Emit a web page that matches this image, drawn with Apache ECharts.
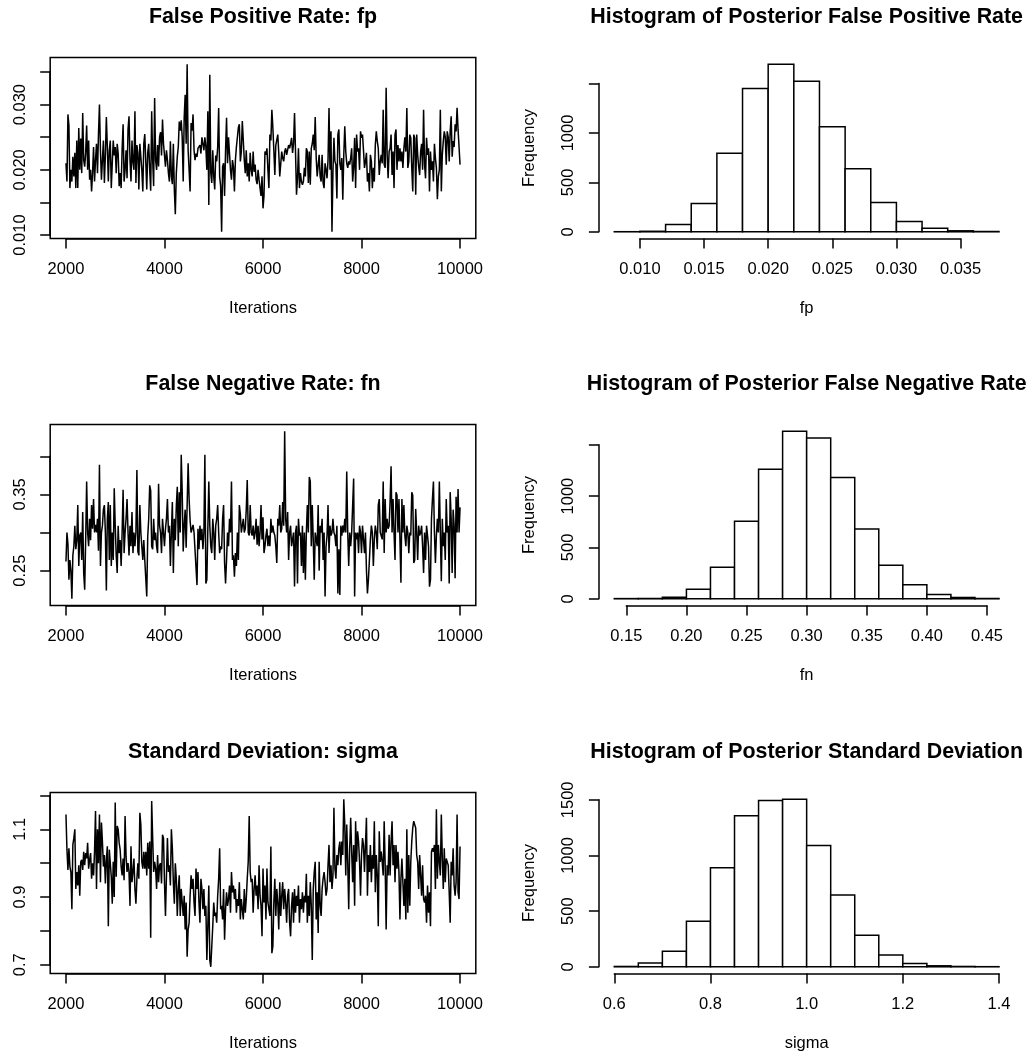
<!DOCTYPE html>
<html><head><meta charset="utf-8">
<script src="https://cdn.jsdelivr.net/npm/echarts@6/dist/echarts.min.js"></script>
<style>html,body{margin:0;padding:0;background:#fff}#c{width:1035px;height:1056px}</style>
</head><body><div id="c"></div>
<script>
// ---------------- DATA ----------------
const ITER_START = 2000, ITER_STEP = 20;

const fpTrace = [
0.0210,0.0182,0.0285,0.0268,0.0172,0.0200,0.0182,0.0220,0.0190,0.0226,0.0172,0.0245,0.0172,0.0264,0.0200,0.0248,0.0195,0.0287,0.0215,0.0205,
0.0226,0.0268,0.0200,0.0245,0.0185,0.0200,0.0167,0.0195,0.0235,0.0182,0.0215,0.0240,0.0195,0.0255,0.0300,0.0230,0.0185,0.0215,0.0245,0.0180,
0.0222,0.0281,0.0235,0.0182,0.0230,0.0245,0.0172,0.0210,0.0245,0.0222,0.0235,0.0195,0.0240,0.0225,0.0175,0.0195,0.0172,0.0232,0.0270,0.0182,
0.0200,0.0230,0.0187,0.0262,0.0282,0.0215,0.0182,0.0245,0.0212,0.0200,0.0290,0.0180,0.0238,0.0226,0.0170,0.0240,0.0238,0.0200,0.0167,0.0240,
0.0255,0.0213,0.0170,0.0226,0.0240,0.0200,0.0168,0.0290,0.0215,0.0175,0.0310,0.0215,0.0200,0.0238,0.0205,0.0250,0.0258,0.0222,0.0277,0.0240,
0.0238,0.0205,0.0230,0.0215,0.0195,0.0182,0.0244,0.0190,0.0178,0.0240,0.0170,0.0132,0.0195,0.0220,0.0235,0.0274,0.0260,0.0276,0.0250,0.0182,
0.0280,0.0315,0.0240,0.0362,0.0230,0.0200,0.0167,0.0272,0.0260,0.0285,0.0230,0.0215,0.0225,0.0220,0.0233,0.0235,0.0238,0.0225,0.0250,0.0240,
0.0230,0.0250,0.0235,0.0200,0.0290,0.0146,0.0346,0.0195,0.0180,0.0230,0.0190,0.0170,0.0222,0.0213,0.0235,0.0295,0.0190,0.0175,0.0105,0.0205,
0.0210,0.0160,0.0230,0.0280,0.0210,0.0250,0.0225,0.0200,0.0185,0.0215,0.0205,0.0167,0.0215,0.0235,0.0250,0.0265,0.0270,0.0213,0.0228,0.0275,
0.0275,0.0215,0.0195,0.0230,0.0190,0.0210,0.0182,0.0226,0.0200,0.0190,0.0228,0.0197,0.0208,0.0185,0.0178,0.0200,0.0185,0.0172,0.0160,0.0190,
0.0141,0.0160,0.0228,0.0223,0.0233,0.0200,0.0172,0.0254,0.0245,0.0292,0.0265,0.0230,0.0192,0.0238,0.0240,0.0254,0.0226,0.0190,0.0187,0.0228,
0.0218,0.0213,0.0228,0.0233,0.0223,0.0226,0.0238,0.0233,0.0240,0.0249,0.0226,0.0240,0.0287,0.0228,0.0162,0.0187,0.0233,0.0172,0.0195,0.0182,
0.0177,0.0182,0.0203,0.0190,0.0233,0.0228,0.0180,0.0228,0.0177,0.0233,0.0240,0.0254,0.0230,0.0281,0.0218,0.0190,0.0187,0.0223,0.0190,0.0182,
0.0223,0.0180,0.0172,0.0210,0.0200,0.0187,0.0215,0.0295,0.0200,0.0259,0.0105,0.0197,0.0249,0.0213,0.0208,0.0156,0.0254,0.0262,0.0210,0.0200,
0.0218,0.0154,0.0223,0.0267,0.0228,0.0210,0.0203,0.0213,0.0208,0.0218,0.0233,0.0182,0.0203,0.0249,0.0172,0.0254,0.0228,0.0233,0.0200,0.0259,
0.0249,0.0254,0.0230,0.0203,0.0213,0.0226,0.0182,0.0195,0.0167,0.0223,0.0213,0.0172,0.0203,0.0182,0.0238,0.0259,0.0244,0.0233,0.0192,0.0213,
0.0223,0.0210,0.0292,0.0208,0.0203,0.0326,0.0223,0.0187,0.0228,0.0233,0.0254,0.0192,0.0228,0.0172,0.0254,0.0262,0.0200,0.0238,0.0213,0.0233,
0.0213,0.0228,0.0203,0.0233,0.0250,0.0228,0.0295,0.0203,0.0213,0.0254,0.0249,0.0203,0.0167,0.0254,0.0249,0.0162,0.0254,0.0223,0.0205,0.0192,
0.0228,0.0240,0.0200,0.0292,0.0208,0.0187,0.0249,0.0223,0.0233,0.0167,0.0228,0.0200,0.0213,0.0182,0.0240,0.0218,0.0203,0.0155,0.0190,0.0200,
0.0292,0.0167,0.0223,0.0244,0.0259,0.0250,0.0208,0.0259,0.0250,0.0213,0.0259,0.0282,0.0220,0.0244,0.0235,0.0270,0.0259,0.0295,0.0262,0.0235,0.0208
];

const fnTrace = [
0.262,0.300,0.285,0.238,0.264,0.250,0.213,0.270,0.282,0.309,0.278,0.290,0.336,0.256,0.296,0.300,0.264,0.327,0.247,0.225,
0.290,0.367,0.300,0.282,0.318,0.290,0.336,0.305,0.344,0.300,0.310,0.300,0.318,0.276,0.389,0.256,0.300,0.309,0.330,0.336,
0.300,0.224,0.318,0.340,0.264,0.336,0.256,0.300,0.264,0.358,0.309,0.270,0.247,0.309,0.273,0.290,0.256,0.300,0.356,0.273,
0.300,0.318,0.344,0.300,0.270,0.309,0.282,0.327,0.273,0.300,0.282,0.300,0.382,0.275,0.270,0.336,0.300,0.282,0.264,0.290,
0.264,0.240,0.216,0.295,0.318,0.362,0.355,0.282,0.278,0.318,0.290,0.300,0.282,0.273,0.364,0.309,0.300,0.273,0.318,0.300,
0.282,0.305,0.318,0.344,0.300,0.309,0.256,0.300,0.340,0.247,0.318,0.290,0.334,0.360,0.282,0.353,0.300,0.402,0.353,0.275,
0.309,0.330,0.280,0.336,0.391,0.344,0.316,0.300,0.305,0.310,0.300,0.300,0.300,0.231,0.305,0.278,0.309,0.290,0.305,0.278,
0.300,0.402,0.233,0.238,0.305,0.367,0.309,0.282,0.273,0.318,0.300,0.264,0.309,0.318,0.336,0.300,0.273,0.282,0.278,0.318,
0.336,0.260,0.233,0.264,0.300,0.282,0.318,0.300,0.367,0.264,0.270,0.242,0.273,0.256,0.300,0.264,0.336,0.324,0.300,0.309,
0.318,0.300,0.305,0.330,0.369,0.300,0.296,0.336,0.300,0.296,0.309,0.291,0.300,0.318,0.284,0.309,0.282,0.300,0.336,0.291,
0.320,0.273,0.282,0.296,0.305,0.282,0.296,0.282,0.318,0.300,0.309,0.300,0.296,0.282,0.260,0.318,0.309,0.336,0.300,0.305,
0.340,0.309,0.433,0.318,0.300,0.327,0.264,0.300,0.309,0.282,0.291,0.300,0.229,0.300,0.309,0.233,0.318,0.296,0.300,0.256,
0.309,0.247,0.300,0.238,0.300,0.336,0.300,0.373,0.367,0.282,0.336,0.290,0.238,0.300,0.291,0.282,0.336,0.250,0.309,0.300,
0.318,0.264,0.300,0.216,0.282,0.296,0.336,0.273,0.309,0.296,0.300,0.318,0.300,0.296,0.282,0.309,0.220,0.278,0.218,0.309,
0.296,0.309,0.300,0.318,0.300,0.380,0.300,0.256,0.300,0.282,0.300,0.300,0.371,0.216,0.300,0.291,0.300,0.273,0.309,0.300,
0.273,0.309,0.309,0.273,0.300,0.251,0.220,0.238,0.264,0.291,0.309,0.300,0.256,0.291,0.309,0.300,0.278,0.336,0.344,0.300,
0.300,0.291,0.367,0.273,0.344,0.300,0.318,0.305,0.309,0.340,0.387,0.300,0.344,0.300,0.264,0.353,0.349,0.300,0.344,0.291,
0.234,0.344,0.300,0.336,0.296,0.282,0.309,0.300,0.273,0.300,0.296,0.353,0.349,0.260,0.264,0.331,0.300,0.264,0.309,0.296,
0.300,0.309,0.282,0.247,0.300,0.264,0.309,0.296,0.282,0.229,0.238,0.318,0.344,0.367,0.300,0.260,0.296,0.318,0.300,0.367,
0.300,0.236,0.318,0.282,0.300,0.264,0.344,0.300,0.309,0.233,0.353,0.318,0.247,0.330,0.309,0.240,0.347,0.300,0.357,0.300,0.333
];

const sigmaTrace = [
1.144,1.040,0.980,1.044,0.990,0.974,0.864,1.054,1.074,1.100,0.924,0.974,0.934,0.994,0.904,1.004,1.010,0.980,1.034,0.994,
1.030,1.014,1.060,0.984,1.010,1.030,0.954,1.000,0.964,1.034,1.154,0.924,1.100,1.000,1.144,0.944,1.120,1.064,0.990,1.024,
0.940,1.010,1.050,0.814,1.040,1.000,0.960,0.880,1.004,0.900,1.179,0.960,1.110,1.100,1.060,1.040,0.990,0.964,1.014,0.950,
1.139,1.020,0.974,1.000,0.974,0.874,1.050,0.944,0.974,1.014,0.924,0.880,0.954,1.000,0.954,1.149,1.114,1.004,0.984,1.034,
0.984,1.034,0.964,1.060,0.984,1.064,0.780,1.184,1.074,0.974,1.004,0.984,0.924,1.024,0.944,0.994,1.000,0.940,1.084,1.074,
0.944,0.844,0.964,1.074,0.974,0.994,0.934,1.100,1.044,0.944,0.880,1.000,0.954,0.844,0.924,0.964,0.844,0.924,0.884,0.844,
0.904,0.804,0.884,0.724,0.804,0.824,0.904,0.964,0.924,0.954,0.884,0.844,0.984,0.924,0.974,0.884,0.824,0.954,0.924,0.864,
0.924,0.844,0.874,0.714,0.814,0.934,0.714,0.694,0.754,0.814,0.884,0.844,0.854,0.824,0.904,0.954,1.044,0.864,0.874,0.834,
0.924,0.774,0.864,0.914,0.874,0.894,0.934,0.854,0.974,0.914,0.934,0.894,0.924,0.854,0.894,0.874,0.944,0.834,0.894,0.864,
0.834,0.924,0.854,0.894,0.954,1.004,1.139,0.974,0.944,0.954,0.854,0.924,0.964,0.904,0.934,0.864,0.994,0.904,0.874,0.784,
0.984,0.884,0.934,0.834,0.984,0.884,0.864,0.844,1.049,0.734,0.754,0.884,0.954,0.844,0.924,0.884,0.804,0.944,0.844,0.904,
0.944,0.864,0.924,0.884,0.824,0.904,0.924,0.824,0.784,0.874,0.914,0.824,0.924,0.854,0.904,0.874,0.934,0.824,0.894,0.864,
0.914,0.854,0.904,0.884,0.969,0.824,0.904,0.844,0.944,0.874,0.714,0.924,0.974,1.004,0.834,0.914,0.794,1.004,0.874,0.844,
0.924,0.954,0.974,0.944,0.904,0.924,0.994,1.054,0.944,0.994,0.924,0.964,1.164,0.984,0.954,1.024,0.994,1.044,1.064,0.994,
1.064,1.024,1.189,1.114,0.964,1.114,1.004,0.864,1.044,1.134,1.034,0.944,1.054,0.874,1.124,1.004,1.094,1.064,1.004,0.904,
1.024,1.074,1.054,0.974,1.054,1.134,0.904,1.024,0.974,1.054,0.944,1.024,0.984,1.124,0.914,1.024,0.964,0.814,1.094,1.004,
1.034,1.004,0.964,1.124,0.994,0.804,0.994,0.964,1.084,0.964,1.064,1.124,0.994,1.054,0.944,1.054,0.984,1.034,0.974,0.834,
0.954,1.014,0.944,0.874,0.954,0.834,1.100,0.854,1.024,0.874,1.004,1.064,1.104,1.124,1.114,1.104,1.024,1.004,0.924,1.024,
1.024,0.904,0.994,0.894,0.884,0.904,0.824,0.934,0.854,0.914,0.814,1.034,1.044,1.034,1.054,0.924,1.159,0.954,1.054,1.004,
0.964,1.144,1.014,0.924,1.044,0.944,1.014,1.004,0.994,0.914,0.824,1.004,0.964,1.044,0.934,0.904,0.944,1.144,0.914,0.894,1.049
];

// trace axes ticks / labels
const traceXTicks = [2000, 4000, 6000, 8000, 10000];
const traceXLabels = ['2000', '4000', '6000', '8000', '10000'];
const fpYTicks = [0.010, 0.015, 0.020, 0.025, 0.030, 0.035];
const fpYLabels = ['0.010', '0.020', '0.030'];
const fnYTicks = [0.25, 0.30, 0.35, 0.40];
const fnYLabels = ['0.25', '0.35'];
const sigmaYTicks = [0.7, 0.8, 0.9, 1.0, 1.1, 1.2];
const sigmaYLabels = ['0.7', '0.9', '1.1'];

// histograms
const fpBreaks = [0.008,0.010,0.012,0.014,0.016,0.018,0.020,0.022,0.024,0.026,0.028,0.030,0.032,0.034,0.036,0.038];
const fpCounts = [1,5,74,287,794,1449,1696,1524,1064,639,297,105,37,10,3];
const fpHistXTicks = [0.010,0.015,0.020,0.025,0.030,0.035];
const fpHistXLabels = ['0.010','0.015','0.020','0.025','0.030','0.035'];
const fpHistYTicks = [0,500,1000,1500];
const fpHistYLabels = ['0','500','1000'];

const fnBreaks = [0.14,0.16,0.18,0.20,0.22,0.24,0.26,0.28,0.30,0.32,0.34,0.36,0.38,0.40,0.42,0.44,0.46];
const fnCounts = [2,3,16,92,307,755,1262,1632,1565,1180,680,327,137,42,13,3];
const fnHistXTicks = [0.15,0.20,0.25,0.30,0.35,0.40,0.45];
const fnHistXLabels = ['0.15','0.20','0.25','0.30','0.35','0.40','0.45'];
const fnHistYTicks = [0,500,1000,1500];
const fnHistYLabels = ['0','500','1000'];

const sigmaBreaks = [0.60,0.65,0.70,0.75,0.80,0.85,0.90,0.95,1.00,1.05,1.10,1.15,1.20,1.25,1.30,1.35,1.40];
const sigmaCounts = [3,33,139,410,889,1358,1494,1506,1090,645,283,105,30,9,3,1];
const sigmaHistXTicks = [0.6,0.8,1.0,1.2,1.4];
const sigmaHistXLabels = ['0.6','0.8','1.0','1.2','1.4'];
const sigmaHistYTicks = [0,500,1000,1500];
const sigmaHistYLabels = ['0','500','1000','1500'];

// ---------------- LAYOUT / STYLE ----------------
const FONT = "'Liberation Sans', Arial, Helvetica, sans-serif";
const AXIS_FS = 16.5, TITLE_FS = 21.4, LW = 1.5, TICK_LEN = 10;
const ROW_TOP = [57.5, 424.5, 792.5], PLOT_H = 181;
const LEFT_COL = [50.2, 475.8], RIGHT_COL = [598.9, 1014.4];
const TITLE_OFF = 40, XLAB_MARGIN = 22, YLAB_MARGIN = 21.5, XNAME_GAP = 61, YNAME_GAP = 61;

const grids = [], xAxes = [], yAxes = [], series = [], titles = [];
const txt = {fontFamily: FONT, fontSize: AXIS_FS, color: '#000'};

function ext(a, b) { const r = b - a; return [a - 0.04 * r, b + 0.04 * r]; }
function lin(v, d0, d1, p0, p1) { return p0 + (v - d0) / (d1 - d0) * (p1 - p0); }
function fmt(labels) {
  return function (v) {
    for (const s of labels) { if (Math.abs(Number(s) - v) < 1e-7) return s; }
    return '';
  };
}
function addGrid(rect, show) {
  grids.push(Object.assign({containLabel: false, outerBoundsMode: 'none', show: !!show,
    borderColor: '#000', borderWidth: LW, backgroundColor: 'transparent'}, rect));
  return grids.length - 1;
}
function hidden(gi, min, max) { return {gridIndex: gi, type: 'value', min, max, show: false, axisLine: {onZero: false}}; }
function nameAxis(gi, min, max, name, extra) {
  return Object.assign({gridIndex: gi, type: 'value', min, max,
    axisLine: {show: false, onZero: false}, axisTick: {show: false}, axisLabel: {show: false}, splitLine: {show: false},
    name, nameLocation: 'middle', nameTextStyle: Object.assign({}, txt)}, extra);
}
function visAxis(gi, ticks, labels, extra, labelExtra) {
  const step = Number((ticks[1] - ticks[0]).toPrecision(10));
  return Object.assign({gridIndex: gi, type: 'value', min: ticks[0], max: ticks[ticks.length - 1], interval: step,
    axisLine: {show: true, onZero: false, lineStyle: {color: '#000', width: LW}},
    axisTick: {show: true, inside: false, length: TICK_LEN, lineStyle: {color: '#000', width: LW}},
    axisLabel: Object.assign({show: true, fontFamily: FONT, fontSize: AXIS_FS, color: '#000', formatter: fmt(labels),
      showMinLabel: true, showMaxLabel: true, hideOverlap: false}, labelExtra),
    splitLine: {show: false}}, extra);
}
function addTitle(text, cx, top) {
  titles.push({text, left: cx, top: top - TITLE_OFF, textAlign: 'center', textVerticalAlign: 'middle', padding: 0,
    textStyle: {fontFamily: FONT, fontSize: TITLE_FS, fontWeight: 'bold', color: '#000'}});
}
function addAxes(L, R, T, B, xr, yr, xTicks, xLabels, yTicks, yLabels) {
  const x0 = lin(xTicks[0], xr[0], xr[1], L, R), x1 = lin(xTicks[xTicks.length - 1], xr[0], xr[1], L, R);
  const gx = addGrid({left: x0, top: T, width: x1 - x0, height: B - T});
  xAxes.push(visAxis(gx, xTicks, xLabels, {position: 'bottom'}, {margin: XLAB_MARGIN}));
  yAxes.push(hidden(gx, 0, 1));
  const yb = lin(yTicks[0], yr[0], yr[1], B, T), yt = lin(yTicks[yTicks.length - 1], yr[0], yr[1], B, T);
  const gy = addGrid({left: L, top: yt, width: R - L, height: yb - yt});
  xAxes.push(hidden(gy, 0, 1));
  yAxes.push(visAxis(gy, yTicks, yLabels, {position: 'left'}, {margin: YLAB_MARGIN, rotate: 90}));
}

function tracePanel(row, title, data, yTicks, yLabels) {
  const [L, R] = LEFT_COL, T = ROW_TOP[row], B = T + PLOT_H;
  const iters = data.map((_, i) => ITER_START + i * ITER_STEP);
  const xr = ext(iters[0], iters[iters.length - 1]);
  const yr = ext(Math.min(...data), Math.max(...data));
  const g = addGrid({left: L, top: T, width: R - L, height: PLOT_H}, true);
  xAxes.push(nameAxis(g, xr[0], xr[1], 'Iterations', {nameGap: XNAME_GAP}));
  yAxes.push(hidden(g, yr[0], yr[1]));
  series.push({type: 'line', xAxisIndex: xAxes.length - 1, yAxisIndex: yAxes.length - 1,
    data: iters.map((x, i) => [x, data[i]]), showSymbol: false, symbol: 'none', silent: true,
    lineStyle: {color: '#000', width: LW}, animation: false});
  addAxes(L, R, T, B, xr, yr, traceXTicks, traceXLabels, yTicks, yLabels);
  addTitle(title, (L + R) / 2, T);
}

function histPanel(row, title, xName, breaks, counts, xTicks, xLabels, yTicks, yLabels) {
  const [L, R] = RIGHT_COL, T = ROW_TOP[row], B = T + PLOT_H;
  const xr = ext(breaks[0], breaks[breaks.length - 1]);
  const yr = ext(0, Math.max(...counts));
  const g = addGrid({left: L, top: T, width: R - L, height: PLOT_H}, false);
  xAxes.push(nameAxis(g, xr[0], xr[1], xName, {nameGap: XNAME_GAP}));
  yAxes.push(nameAxis(g, yr[0], yr[1], 'Frequency', {nameGap: YNAME_GAP, nameRotate: 90}));
  series.push({type: 'custom', xAxisIndex: xAxes.length - 1, yAxisIndex: yAxes.length - 1, silent: true, animation: false,
    data: counts.map((c, i) => [breaks[i], breaks[i + 1], c]),
    encode: {x: [0, 1], y: 2},
    renderItem: function (params, api) {
      const p0 = api.coord([api.value(0), 0]);
      const p1 = api.coord([api.value(1), api.value(2)]);
      return {type: 'rect', shape: {x: p0[0], y: p1[1], width: p1[0] - p0[0], height: p0[1] - p1[1]},
        style: {fill: '#fff', stroke: '#000', lineWidth: LW}};
    }});
  addAxes(L, R, T, B, xr, yr, xTicks, xLabels, yTicks, yLabels);
  addTitle(title, (L + R) / 2, T);
}

tracePanel(0, 'False Positive Rate: fp', fpTrace, fpYTicks, fpYLabels);
histPanel(0, 'Histogram of Posterior False Positive Rate', 'fp', fpBreaks, fpCounts, fpHistXTicks, fpHistXLabels, fpHistYTicks, fpHistYLabels);
tracePanel(1, 'False Negative Rate: fn', fnTrace, fnYTicks, fnYLabels);
histPanel(1, 'Histogram of Posterior False Negative Rate', 'fn', fnBreaks, fnCounts, fnHistXTicks, fnHistXLabels, fnHistYTicks, fnHistYLabels);
tracePanel(2, 'Standard Deviation: sigma', sigmaTrace, sigmaYTicks, sigmaYLabels);
histPanel(2, 'Histogram of Posterior Standard Deviation', 'sigma', sigmaBreaks, sigmaCounts, sigmaHistXTicks, sigmaHistXLabels, sigmaHistYTicks, sigmaHistYLabels);

const chart = echarts.init(document.getElementById('c'), null, {renderer: 'canvas'});
chart.setOption({
  animation: false,
  backgroundColor: '#fff',
  title: titles,
  grid: grids,
  xAxis: xAxes,
  yAxis: yAxes,
  series: series
});
</script></body></html>
